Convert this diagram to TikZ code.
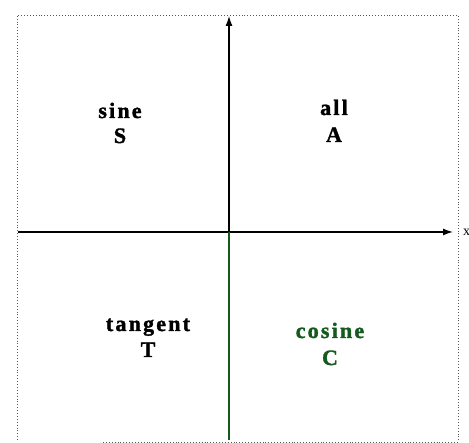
\documentclass[tikz,border=0pt]{standalone}
\usepackage{fontspec}
\setmainfont{Liberation Serif}
\newfontfamily\lblfont[LetterSpace=10,FakeBold=1.5]{Liberation Serif Bold}
\usetikzlibrary{arrows.meta}
\definecolor{dgreen}{RGB}{20,90,30}
\tikzset{
  lbl/.style={font=\lblfont\fontsize{22}{26}\selectfont, anchor=base, inner sep=0pt},
  axis/.style={line width=1.3pt, -{Latex[length=10pt,width=7pt]}},
  frame/.style={dotted, line width=0.9pt, gray!70!black}
}
\begin{document}
\begin{tikzpicture}[x=1pt,y=1pt]
\useasboundingbox (0,0) rectangle (469,443);
\fill[white] (0,0) rectangle (469,443);
\coordinate (f1) at (17,1);
\coordinate (f2) at (17,428);
\coordinate (f3) at (458,428);
\coordinate (f4) at (458,1);
\coordinate (f5) at (103,1);
\draw[frame] (f5) -- (f4) -- (f3) -- (f2) -- (f1);
\coordinate (xl) at (18,211);
\coordinate (xr) at (453,211);
\coordinate (yb) at (229,3);
\coordinate (yt) at (229,427);
\coordinate (o) at (229,211);
\draw[axis] (xl) -- (xr);
\draw[line width=1.3pt, dgreen] (yb) -- (o);
\draw[axis] (o) -- (yt);
\node[font=\fontsize{14}{16}\selectfont, anchor=base west, inner sep=0pt] (xlab) at (463,207) {x};
\node[lbl] (sine) at (120,325) {sine};
\node[lbl] (S) at (120,300) {S};
\node[lbl] (all) at (334,328) {all};
\node[lbl] (A) at (334,301) {A};
\node[lbl] (tan) at (148,112) {tangent};
\node[lbl] (T) at (148,86) {T};
\node[lbl, text=dgreen] (cos) at (330,105) {cosine};
\node[lbl, text=dgreen] (C) at (330,78) {C};
\end{tikzpicture}
\end{document}
